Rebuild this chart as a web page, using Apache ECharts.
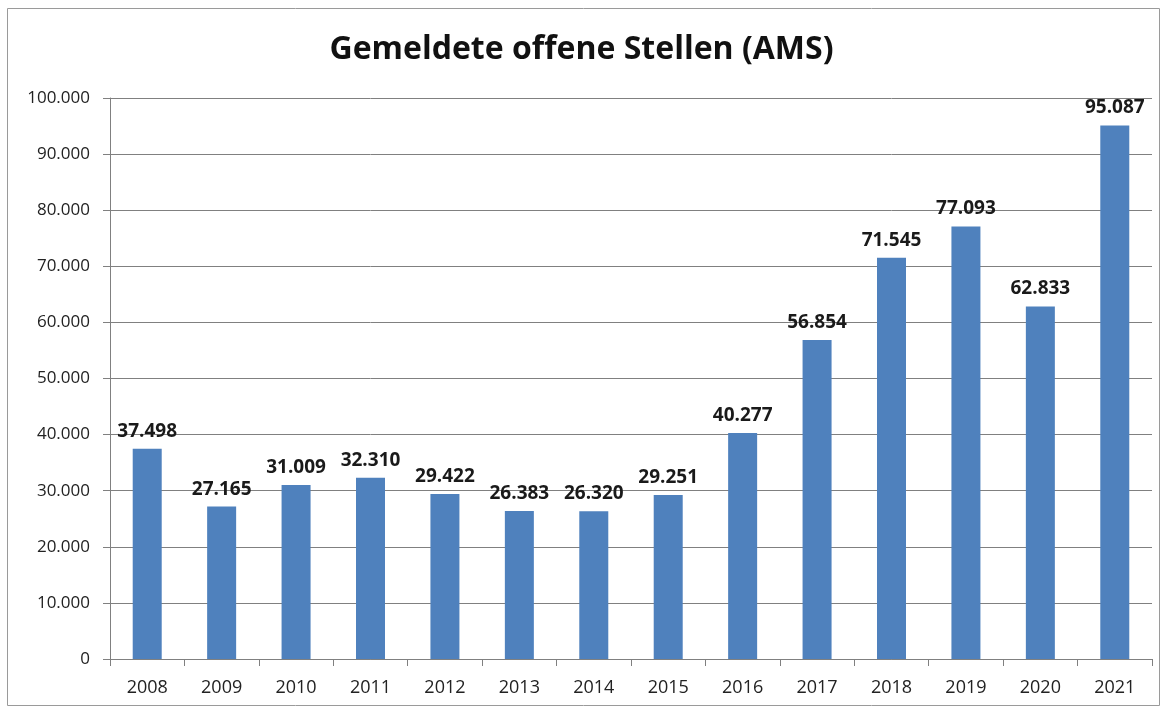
<!DOCTYPE html>
<html>
<head>
<meta charset="utf-8">
<title>Gemeldete offene Stellen (AMS)</title>
<script src="https://cdn.jsdelivr.net/npm/echarts@6/dist/echarts.min.js"></script>
<style>
  html, body { margin: 0; padding: 0; background: #fff; }
  #chart { width: 1163px; height: 710px; }
</style>
</head>
<body>
<div id="chart"></div>
<script>
// Daten
const years = ['2008', '2009', '2010', '2011', '2012', '2013', '2014', '2015', '2016', '2017', '2018', '2019', '2020', '2021'];
const stellen = [37498, 27165, 31009, 32310, 29422, 26383, 26320, 29251, 40277, 56854, 71545, 77093, 62833, 95087];

// 12345 -> "12.345"
function fmt(v) {
  return String(v).replace(/\B(?=(\d{3})+(?!\d))/g, '.');
}

const font = '"Open Sans", "Noto Sans", sans-serif';
let chart = echarts.init(document.getElementById('chart'));
let option = {
  animation: false,
  title: {
    text: 'Gemeldete offene Stellen (AMS)',
    left: 'center',
    top: 29,
    textStyle: {
      fontFamily: font,
      fontSize: 32,
      fontWeight: 'bold',
      color: '#111'
    }
  },
  graphic: [{
    type: 'rect',
    shape: { x: 7.5, y: 8.5, width: 1152, height: 697 },
    style: { fill: 'none', stroke: '#9a9a9a', lineWidth: 1 },
    silent: true
  }],
  grid: {
    left: 110,
    right: 11,
    top: 98,
    bottom: 51
  },
  xAxis: {
    type: 'category',
    data: years,
    axisLine: { lineStyle: { color: '#808080' } },
    axisTick: { show: true, length: 7, lineStyle: { color: '#808080' } },
    axisLabel: {
      margin: 20,
      fontFamily: font,
      fontSize: 18,
      color: '#222'
    }
  },
  yAxis: {
    type: 'value',
    min: 0,
    max: 100000,
    interval: 10000,
    axisLine: { show: true, lineStyle: { color: '#808080' } },
    axisTick: { show: true, length: 7, lineStyle: { color: '#808080' } },
    splitLine: { lineStyle: { color: '#808080', width: 1 } },
    axisLabel: {
      margin: 20,
      fontFamily: font,
      fontSize: 17,
      color: '#222',
      formatter: fmt
    }
  },
  series: [{
    type: 'bar',
    data: stellen,
    barWidth: 29,
    itemStyle: { color: '#4F81BD' },
    label: {
      show: true,
      position: 'top',
      distance: 8,
      fontFamily: font,
      fontSize: 19,
      fontWeight: 'bold',
      color: '#1a1a1a',
      formatter: p => fmt(p.value)
    }
  }]
};
chart.setOption(option);
</script>
</body>
</html>
